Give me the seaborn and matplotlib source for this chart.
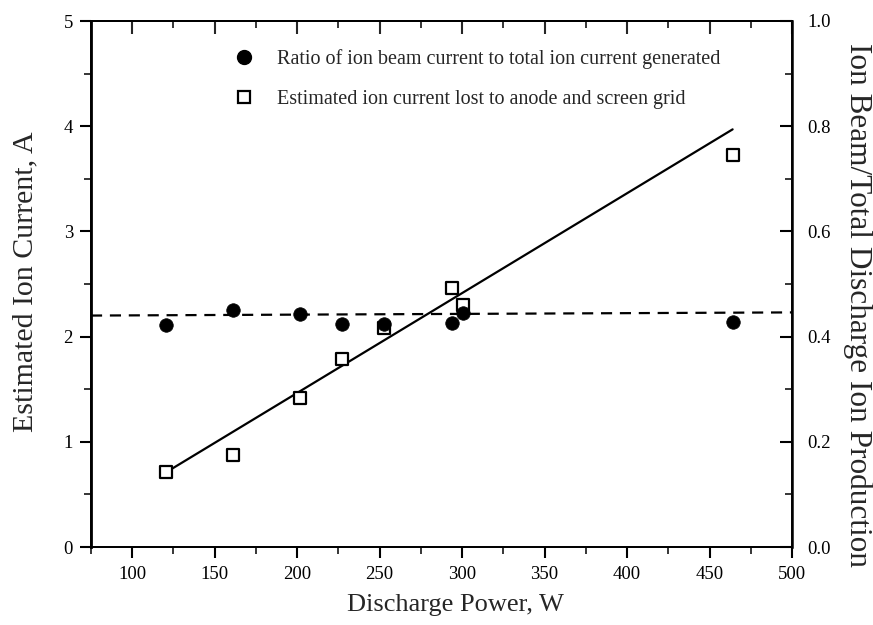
import numpy as np
import pandas as pd
import matplotlib
matplotlib.use("Agg")
import matplotlib.pyplot as plt
from matplotlib.ticker import MultipleLocator, FormatStrFormatter
from matplotlib.lines import Line2D
import seaborn as sns

# ---- data ----
power_lost = [120.5, 161, 202, 227, 252.6, 293.8, 300.5, 464]
current_lost = [0.71, 0.875, 1.42, 1.79, 2.08, 2.46, 2.30, 3.73]

power_ratio = [120.5, 161, 202, 227, 252.6, 293.8, 300.5, 464]
ratio = [0.422, 0.451, 0.443, 0.424, 0.424, 0.425, 0.445, 0.428]

fit_x = [120.5, 464]
fit_y = [0.71, 3.97]

mean_x = [75, 500]
mean_y = [0.440, 0.446]

legend_labels = ["Ratio of ion beam current to total ion current generated",
                 "Estimated ion current lost to anode and screen grid"]

sns.set_theme(style="white")
plt.rcParams['font.family'] = ['Liberation Serif', 'DejaVu Serif']
plt.rcParams['mathtext.fontset'] = 'stix'

fig = plt.figure(figsize=(8.73, 6.25), dpi=100)
ax = fig.add_axes([91/873, 78/625, 701/873, 526/625])
ax2 = ax.twinx()

df_lost = pd.DataFrame({"x": power_lost, "y": current_lost})
df_ratio = pd.DataFrame({"x": power_ratio, "y": ratio})
df_fit = pd.DataFrame({"x": fit_x, "y": fit_y})
df_mean = pd.DataFrame({"x": mean_x, "y": mean_y})

sns.lineplot(data=df_fit, x="x", y="y", ax=ax, color="black", lw=1.6, legend=False)
sns.scatterplot(data=df_lost, x="x", y="y", ax=ax, marker="s", s=75,
                facecolor="white", edgecolor="black", linewidth=1.6, zorder=5, legend=False)
sns.lineplot(data=df_mean, x="x", y="y", ax=ax2, color="black", lw=1.6, legend=False)
ax2.lines[-1].set_dashes([5, 3.5])
sns.scatterplot(data=df_ratio, x="x", y="y", ax=ax2, marker="o", s=95,
                color="black", edgecolor="black", linewidth=0.5, zorder=5, legend=False)

ax.set_xlim(75, 500)
ax.set_ylim(0, 5)
ax2.set_ylim(0, 1.0)

ax.xaxis.set_major_locator(MultipleLocator(50))
ax.xaxis.set_minor_locator(MultipleLocator(25))
ax.yaxis.set_major_locator(MultipleLocator(1))
ax.yaxis.set_minor_locator(MultipleLocator(0.5))
ax2.yaxis.set_major_locator(MultipleLocator(0.2))
ax2.yaxis.set_minor_locator(MultipleLocator(0.1))
ax2.yaxis.set_major_formatter(FormatStrFormatter('%.1f'))

ax.set_xlabel("")
ax.set_ylabel("")
ax2.set_ylabel("")

# ticks: left/bottom outward, top/right inward
ax.tick_params(axis='x', which='major', direction='out', length=8, width=1.5,
               bottom=True, top=False, labelsize=13.5, pad=6, colors='black')
ax.tick_params(axis='x', which='minor', direction='out', length=5, width=1.3,
               bottom=True, top=False)
ax.tick_params(axis='y', which='major', direction='out', length=8, width=1.5,
               left=True, right=False, labelsize=13.5, pad=5, colors='black')
ax.tick_params(axis='y', which='minor', direction='out', length=5, width=1.3,
               left=True, right=False)
ax2.tick_params(axis='y', which='major', direction='in', length=9, width=1.5,
                right=True, labelsize=13.5, pad=11, colors='black')
ax2.tick_params(axis='y', which='minor', direction='in', length=5, width=1.3, right=True)

# top ticks inward via secondary x axis
secx = ax.secondary_xaxis('top')
secx.xaxis.set_major_locator(MultipleLocator(50))
secx.xaxis.set_minor_locator(MultipleLocator(25))
secx.tick_params(axis='x', which='major', direction='in', length=9, width=1.5, labeltop=False)
secx.tick_params(axis='x', which='minor', direction='in', length=5, width=1.3)
secx.spines['top'].set_linewidth(1.3)

for a in (ax, ax2):
    for s in a.spines.values():
        s.set_color('black')
        s.set_linewidth(1.3)
ax.spines['left'].set_linewidth(2.0)
ax2.spines['right'].set_linewidth(1.8)

fig.text(455/873, 1 - 605/625, "Discharge Power, W", ha='center', va='center', fontsize=19)
fig.text(25/873, 1 - 282/625, "Estimated Ion Current, A", ha='center', va='center',
         rotation=90, fontsize=21.5)
fig.text(858/873, 1 - 305/625, "Ion Beam/Total Discharge Ion Production", ha='center',
         va='center', rotation=270, fontsize=22.5)

handles = [Line2D([], [], ls='none', marker='o', markersize=10, color='black'),
           Line2D([], [], ls='none', marker='s', markersize=8, markerfacecolor='white',
                  markeredgecolor='black', markeredgewidth=1.6)]
ax2.legend(handles, legend_labels, loc='upper left',
           bbox_to_anchor=((234 - 91) / 701, (547 - 49) / 526),
           frameon=False, fontsize=14.5, handlelength=1.0, handletextpad=1.15,
           labelspacing=1.05, borderaxespad=0, borderpad=0)

fig.savefig("out.png", dpi=100)
